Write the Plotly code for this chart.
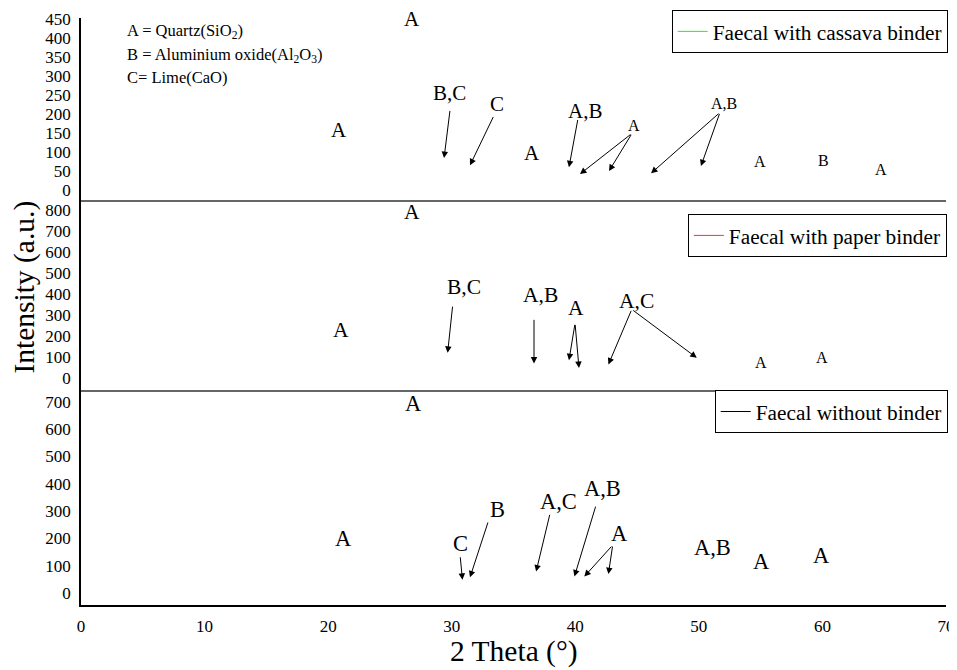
import plotly.graph_objects as go
from plotly.subplots import make_subplots

# ---------------- data ----------------
series_names = ["Faecal with cassava binder", "Faecal with paper binder", "Faecal without binder"]
series_colors = ["#22ee22", "#ff3030", "#000000"]
# the diffraction curves are not visible in the reference picture
two_theta_cassava, intensity_cassava = [None], [None]
two_theta_paper, intensity_paper = [None], [None]
two_theta_none, intensity_none = [None], [None]

x_ticks = [0, 10, 20, 30, 40, 50, 60, 70]
y_ticks_top = [0, 50, 100, 150, 200, 250, 300, 350, 400, 450]
y_ticks_mid = [0, 100, 200, 300, 400, 500, 600, 700, 800]
y_ticks_bot = [0, 100, 200, 300, 400, 500, 600, 700]

key_lines = ["A = Quartz(SiO<sub>2</sub>)",
             "B = Aluminium oxide(Al<sub>2</sub>O<sub>3</sub>)",
             "C= Lime(CaO)"]
key_y = [419, 356, 296]

# peak labels: text, 2theta, intensity
top_labels = ["A", "A", "B,C", "C", "A", "A,B", "A", "A,B", "A", "B", "A"]
top_label_x = [26.8, 20.9, 29.8, 33.7, 36.5, 40.8, 44.75, 52.0, 54.95, 60.1, 64.7]
top_label_y = [450, 157, 254, 225, 97, 207, 170, 228, 76, 79, 55]
top_small = [False, False, False, False, False, False, True, True, True, True, True]
# arrows: tail (x, y) -> head (x, y)
top_arrow_tail_x = [29.87, 33.42, 40.22, 44.59, 44.59, 51.71, 51.71]
top_arrow_tail_y = [212, 196, 188, 149, 149, 204, 204]
top_arrow_head_x = [29.38, 31.48, 39.49, 40.38, 42.73, 46.13, 50.17]
top_arrow_head_y = [84, 65, 60, 42, 50, 44, 63]

mid_labels = ["A", "A", "B,C", "A,B", "A", "A,C", "A", "A"]
mid_label_x = [26.8, 21.04, 31.0, 37.15, 40.06, 44.98, 55.04, 59.96]
mid_label_y = [792, 229, 434, 396, 334, 367, 73, 97]
mid_small = [False, False, False, False, False, False, True, True]
mid_arrow_tail_x = [30.08, 36.66, 39.98, 39.98, 44.57, 44.57]
mid_arrow_tail_y = [348, 285, 261, 261, 328, 328]
mid_arrow_head_x = [29.67, 36.66, 39.49, 40.30, 42.68, 49.83]
mid_arrow_head_y = [121, 70, 86, 49, 65, 97]

bot_labels = ["A", "A", "C", "B", "A,C", "A,B", "A", "A,B", "A", "A"]
bot_label_x = [26.87, 21.23, 30.73, 33.69, 38.63, 42.19, 43.57, 51.09, 55.09, 59.96]
bot_label_y = [693, 199, 180, 307, 335, 383, 219, 168, 115, 137]
bot_small = [False] * 10
bot_arrow_tail_x = [30.68, 32.97, 37.96, 41.68, 43.03, 43.03]
bot_arrow_tail_y = [137, 264, 292, 322, 176, 176]
bot_arrow_head_x = [30.87, 31.48, 36.83, 39.93, 40.73, 42.68]
bot_arrow_head_y = [49, 58, 79, 61, 61, 70]

# ---------------- figure ----------------
FONT = "Liberation Serif"
fig = make_subplots(rows=3, cols=1, shared_xaxes=True, vertical_spacing=0)

xs = [two_theta_cassava, two_theta_paper, two_theta_none]
ys = [intensity_cassava, intensity_paper, intensity_none]
legends = ["legend", "legend2", "legend3"]
for i in range(3):
    fig.add_trace(go.Scatter(x=xs[i], y=ys[i], mode="lines", name=series_names[i],
                             line=dict(color=series_colors[i], width=1),
                             legend=legends[i], showlegend=True), row=i + 1, col=1)

domains = [[0.690, 1.0], [0.366, 0.690], [0.0, 0.366]]
ranges = [[-26, 452], [-57, 849], [-43, 742]]
yticks = [y_ticks_top, y_ticks_mid, y_ticks_bot]
xline_colors = ["#666666", "#666666", "#000000"]
xline_widths = [2, 2, 1.5]
for i in range(3):
    sfx = "" if i == 0 else str(i + 1)
    fig.layout["yaxis" + sfx].update(
        domain=domains[i], range=ranges[i], tickvals=yticks[i], ticks="",
        showgrid=False, zeroline=False, showline=True, linecolor="black", linewidth=1.5,
        tickfont=dict(family=FONT, size=17, color="black"), ticklabelstandoff=5)
    fig.layout["xaxis" + sfx].update(
        range=[0, 70], tickvals=x_ticks, ticks="", showgrid=False, zeroline=False,
        showline=True, linecolor=xline_colors[i], linewidth=xline_widths[i],
        showticklabels=(i == 2),
        tickfont=dict(family=FONT, size=17, color="black"), ticklabelstandoff=5)

annotations = []
for j, t in enumerate(key_lines):
    annotations.append(dict(x=3.56, y=key_y[j], xref="x", yref="y", text=t, showarrow=False,
                            xanchor="left", yanchor="middle",
                            font=dict(family=FONT, size=16.5, color="black")))

panels = [
    ("x", "y", top_labels, top_label_x, top_label_y, top_small, 21,
     top_arrow_tail_x, top_arrow_tail_y, top_arrow_head_x, top_arrow_head_y),
    ("x2", "y2", mid_labels, mid_label_x, mid_label_y, mid_small, 21.5,
     mid_arrow_tail_x, mid_arrow_tail_y, mid_arrow_head_x, mid_arrow_head_y),
    ("x3", "y3", bot_labels, bot_label_x, bot_label_y, bot_small, 22.5,
     bot_arrow_tail_x, bot_arrow_tail_y, bot_arrow_head_x, bot_arrow_head_y),
]
for xr, yr, labs, lx, ly, small, big, tx, ty, hx, hy in panels:
    for k in range(len(labs)):
        annotations.append(dict(x=lx[k], y=ly[k], xref=xr, yref=yr, text=labs[k],
                                showarrow=False, xanchor="center", yanchor="middle",
                                font=dict(family=FONT, size=16 if small[k] else big, color="black")))
    for k in range(len(tx)):
        annotations.append(dict(x=hx[k], y=hy[k], xref=xr, yref=yr,
                                ax=tx[k], ay=ty[k], axref=xr, ayref=yr,
                                text="", showarrow=True, arrowhead=2, arrowsize=1.3,
                                arrowwidth=1, arrowcolor="black", standoff=0, startstandoff=0))

annotations.append(dict(x=0.5, y=-0.08, xref="paper", yref="paper", text="2 Theta (°)",
                        showarrow=False, xanchor="center", yanchor="middle",
                        font=dict(family=FONT, size=29.5, color="black")))
annotations.append(dict(x=-0.065, y=0.542, xref="paper", yref="paper", text="Intensity (a.u.)",
                        showarrow=False, xanchor="center", yanchor="middle", textangle=-90,
                        font=dict(family=FONT, size=29.5, color="black")))

legend_style = dict(bgcolor="white", bordercolor="black", borderwidth=1,
                    font=dict(family=FONT, size=21.3, color="black"),
                    xanchor="right", yanchor="top", itemwidth=30)
# the page places the figure 8 px in from the top-left, so margins compensate
fig.update_layout(
    width=957, height=670,
    margin=dict(l=73, r=19, t=10, b=73, autoexpand=False),
    plot_bgcolor="white", paper_bgcolor="white",
    annotations=annotations,
    legend=dict(x=1.002, y=1.0136, **legend_style),
    legend2=dict(x=1.001, y=0.666, **legend_style),
    legend3=dict(x=1.002, y=0.366, **legend_style),
)

fig.write_html("out.html")
